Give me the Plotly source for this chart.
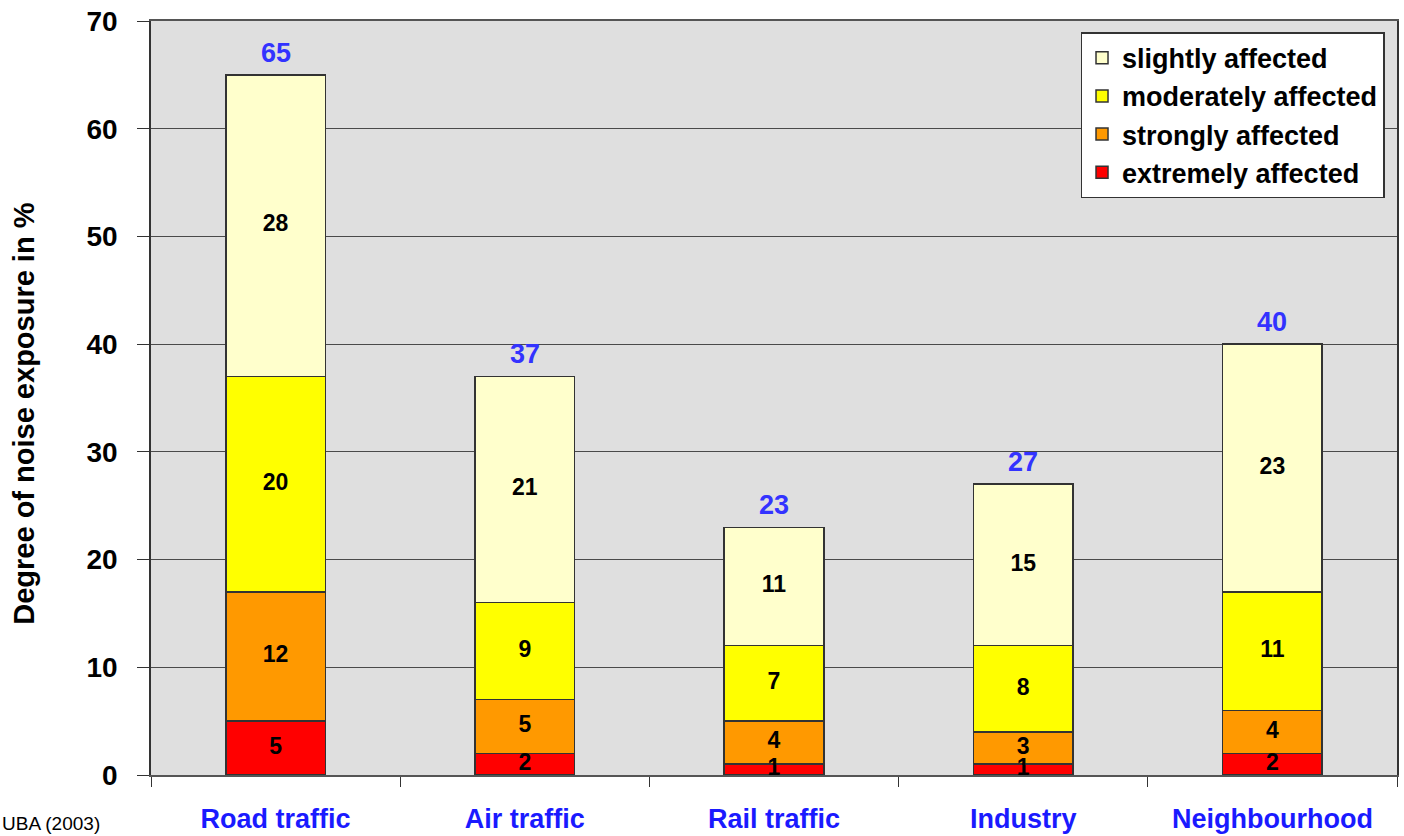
import plotly.graph_objects as go

categories = ["Road traffic", "Air traffic", "Rail traffic", "Industry", "Neighbourhood"]
extremely = [5, 2, 1, 1, 2]
strongly = [12, 5, 4, 3, 4]
moderately = [20, 9, 7, 8, 11]
slightly = [28, 21, 11, 15, 23]
totals = [65, 37, 23, 27, 40]
y_ticks = [0, 10, 20, 30, 40, 50, 60, 70]

series = [
    ("extremely affected", extremely, "#ff0000"),
    ("strongly affected", strongly, "#ff9900"),
    ("moderately affected", moderately, "#ffff00"),
    ("slightly affected", slightly, "#ffffcc"),
]

FONT = "Liberation Sans, Arial, sans-serif"

fig = go.Figure()
base = [0] * len(categories)
lab_x, lab_y, lab_t = [], [], []
for name, vals, col in series:
    fig.add_trace(go.Bar(
        x=categories, y=vals, name=name,
        marker=dict(color=col, line=dict(color="#333333", width=1.5)),
        legendgroup=name,
        width=0.4,
        hoverinfo="skip",
    ))
    for j, v in enumerate(vals):
        lab_x.append(categories[j])
        lab_y.append(base[j] + v / 2)
        lab_t.append(str(v))
        base[j] += v

# segment labels drawn above all bars so small segments show fully
fig.add_trace(go.Scatter(
    x=lab_x, y=lab_y, text=lab_t, mode="text", textposition="middle center",
    textfont=dict(family=FONT, size=23, color="black", weight="bold"),
    showlegend=False, hoverinfo="skip", cliponaxis=False,
))

for cat, tot in zip(categories, totals):
    fig.add_annotation(
        x=cat, y=tot, xref="x", yref="y", text=str(tot),
        showarrow=False, yanchor="bottom", yshift=5,
        font=dict(family=FONT, size=27, color="#3333ff", weight="bold"),
    )

fig.update_layout(
    width=1404, height=836,
    barmode="stack",
    margin=dict(l=151, r=7, t=21, b=61),
    paper_bgcolor="white",
    plot_bgcolor="#dfdfdf",
    font=dict(family=FONT, color="black"),
    legend=dict(
        x=0.746, y=0.985, xanchor="left", yanchor="top",
        bgcolor="white", bordercolor="#333333", borderwidth=1.5,
        font=dict(family=FONT, size=27, color="black", weight="bold"),
        traceorder="reversed", tracegroupgap=6,
        itemwidth=30,
    ),
    showlegend=True,
)

fig.update_xaxes(
    type="category", automargin=False,
    showline=True, linecolor="#555555", linewidth=1.5, mirror=True,
    ticks="outside", tickson="boundaries", ticklen=10, tickcolor="#333333",
    ticklabelstandoff=19,
    tickfont=dict(family=FONT, size=27, color="#1a1aff", weight="bold"),
    showgrid=False,
)
fig.update_yaxes(
    range=[0, 70], tickvals=y_ticks, automargin=False,
    showline=True, linecolor="#333333", linewidth=1.5, mirror=True,
    ticks="outside", ticklen=12, tickcolor="#333333",
    ticklabelstandoff=14,
    tickfont=dict(family=FONT, size=28, color="black", weight="bold"),
    showgrid=True, gridcolor="#4a4a4a", gridwidth=1,
    zeroline=False,
)

# y axis title, placed slightly below the axis midpoint as in the original
fig.add_annotation(
    text="Degree of noise exposure in %", xref="paper", yref="paper",
    x=-0.102, y=0.479, xanchor="center", yanchor="middle", textangle=-90,
    showarrow=False,
    font=dict(family=FONT, size=29, color="black", weight="bold"),
)

fig.add_annotation(
    text="UBA (2003)", xref="paper", yref="paper",
    x=-0.121, y=-0.081, xanchor="left", yanchor="bottom",
    showarrow=False, font=dict(family=FONT, size=19, color="black"),
)

fig.write_html("out.html")
